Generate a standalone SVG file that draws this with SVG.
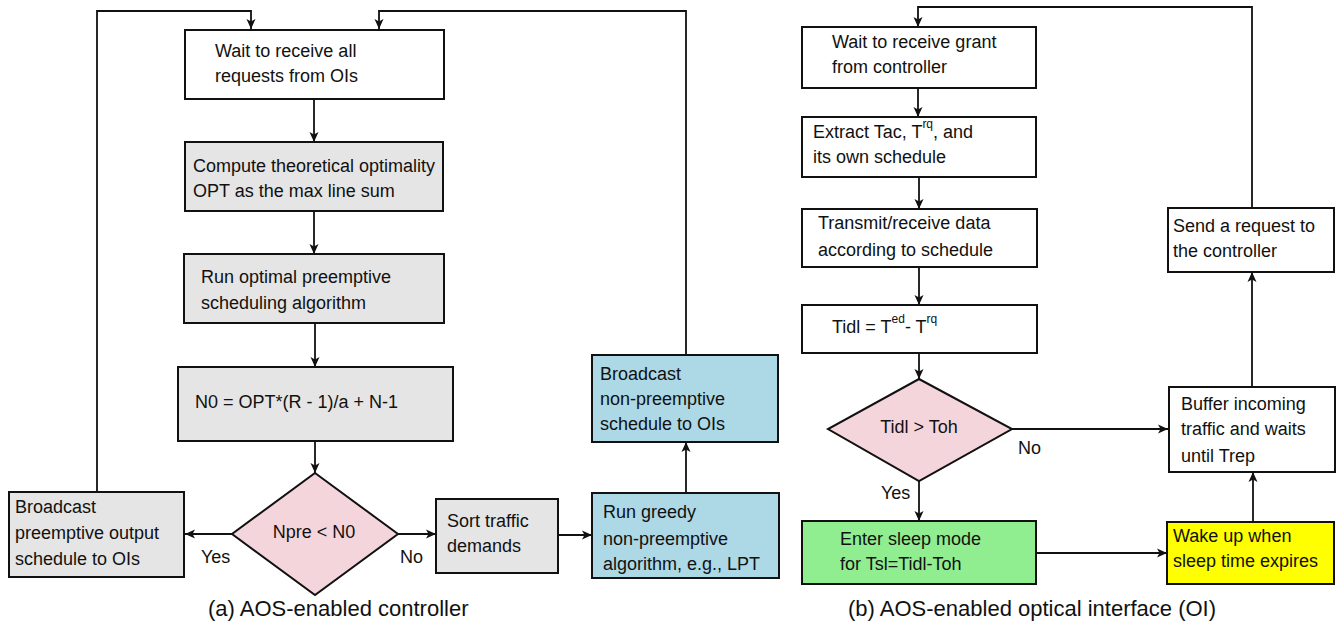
<svg xmlns="http://www.w3.org/2000/svg" width="1336" height="628" viewBox="0 0 1336 628">
<style>
text{font-family:"Liberation Sans",Arial,sans-serif;font-size:18px;fill:#111}
.cap{font-size:22px}
.box{stroke:#111;stroke-width:2}
.w{fill:#fff}.g{fill:#e5e5e5}.b{fill:#add8e6}.p{fill:#f5d5dc}.gr{fill:#90ee90}.y{fill:#ffff00}
.c{fill:none;stroke:#111;stroke-width:1.8}
.sup{font-size:12px}
</style>
<defs>
<marker id="ah" markerWidth="10" markerHeight="10" viewBox="0 0 10 10" refX="10" refY="5" orient="auto" markerUnits="userSpaceOnUse">
<path d="M0,0.5 L10,5 L0,9.5 L2.5,5 z" fill="#111"/>
</marker>
</defs>
<rect width="1336" height="628" fill="#fff"/>
<g id="connectors">
<path class="c" d="M97,492 V11 H251 V29" marker-end="url(#ah)"/>
<path class="c" d="M686,355 V11 H379 V29" marker-end="url(#ah)"/>
<path class="c" d="M314,99 V142" marker-end="url(#ah)"/>
<path class="c" d="M314,211 V254" marker-end="url(#ah)"/>
<path class="c" d="M315,323 V367" marker-end="url(#ah)"/>
<path class="c" d="M315,441 V473" marker-end="url(#ah)"/>
<path class="c" d="M232,534 H185" marker-end="url(#ah)"/>
<path class="c" d="M398,534 H436" marker-end="url(#ah)"/>
<path class="c" d="M558,535 H592" marker-end="url(#ah)"/>
<path class="c" d="M686,493 V442" marker-end="url(#ah)"/>
<path class="c" d="M1252,208 V7 H918 V27" marker-end="url(#ah)"/>
<path class="c" d="M918,88 V117" marker-end="url(#ah)"/>
<path class="c" d="M919,177 V209" marker-end="url(#ah)"/>
<path class="c" d="M919,267 V305" marker-end="url(#ah)"/>
<path class="c" d="M919,353 V379" marker-end="url(#ah)"/>
<path class="c" d="M1012,429 H1168" marker-end="url(#ah)"/>
<path class="c" d="M919,481 V521" marker-end="url(#ah)"/>
<path class="c" d="M1036,553 H1167" marker-end="url(#ah)"/>
<path class="c" d="M1253,522 V472" marker-end="url(#ah)"/>
<path class="c" d="M1252,387 V272" marker-end="url(#ah)"/>
</g>
<g id="labels">
<text x="201" y="563">Yes</text>
<text x="400" y="563">No</text>
<text x="1018" y="454">No</text>
<text x="881" y="499">Yes</text>
<text class="cap" x="208" y="616">(a) AOS-enabled controller</text>
<text class="cap" x="848" y="616">(b) AOS-enabled optical interface (OI)</text>
</g>
<g id="wait-all">
<rect class="box w" x="185" y="30" width="259" height="69"/>
<text x="215" y="57">Wait to receive all</text>
<text x="215" y="82">requests from OIs</text>
</g>
<g id="compute-opt">
<rect class="box g" x="185" y="142" width="258" height="69"/>
<text x="193" y="172">Compute theoretical optimality</text>
<text x="193" y="197">OPT as the max line sum</text>
</g>
<g id="run-optimal">
<rect class="box g" x="184" y="254" width="260" height="69"/>
<text x="201" y="283">Run optimal preemptive</text>
<text x="201" y="309">scheduling algorithm</text>
</g>
<g id="n0">
<rect class="box g" x="178" y="367" width="275" height="74"/>
<text x="195" y="408">N0 = OPT*(R - 1)/a + N-1</text>
</g>
<g id="decision-npre">
<polygon class="box p" points="315,473 398,534 315,595 232,534"/>
<text x="314" y="538" text-anchor="middle">Npre &lt; N0</text>
</g>
<g id="broadcast-pre">
<rect class="box g" x="9" y="492" width="175" height="85"/>
<text x="15" y="513">Broadcast</text>
<text x="15" y="539">preemptive output</text>
<text x="15" y="565">schedule to OIs</text>
</g>
<g id="sort">
<rect class="box g" x="436" y="499" width="122" height="74"/>
<text x="447" y="527">Sort traffic</text>
<text x="447" y="552">demands</text>
</g>
<g id="greedy">
<rect class="box b" x="592" y="493" width="187" height="85"/>
<text x="603" y="518">Run greedy</text>
<text x="603" y="545">non-preemptive</text>
<text x="603" y="570">algorithm, e.g., LPT</text>
</g>
<g id="broadcast-nonpre">
<rect class="box b" x="592" y="355" width="186" height="87"/>
<text x="600" y="380">Broadcast</text>
<text x="600" y="405">non-preemptive</text>
<text x="600" y="430">schedule to OIs</text>
</g>
<g id="wait-grant">
<rect class="box w" x="802" y="27" width="234" height="61"/>
<text x="832" y="48">Wait to receive grant</text>
<text x="832" y="73">from controller</text>
</g>
<g id="extract">
<rect class="box w" x="802" y="117" width="234" height="60"/>
<text x="813" y="138">Extract Tac, T<tspan class="sup" dy="-10">rq</tspan><tspan dy="10">, and</tspan></text>
<text x="813" y="163">its own schedule</text>
</g>
<g id="transmit">
<rect class="box w" x="802" y="209" width="235" height="58"/>
<text x="818" y="229">Transmit/receive data</text>
<text x="818" y="256">according to schedule</text>
</g>
<g id="tidl">
<rect class="box w" x="802" y="305" width="235" height="48"/>
<text x="832" y="333">Tidl = T<tspan class="sup" dy="-10">ed</tspan><tspan dy="10">- T</tspan><tspan class="sup" dy="-10">rq</tspan></text>
</g>
<g id="decision-tidl">
<polygon class="box p" points="919,379 1012,429 919,481 828,429"/>
<text x="919" y="433" text-anchor="middle">Tidl &gt; Toh</text>
</g>
<g id="sleep">
<rect class="box gr" x="802" y="521" width="234" height="63"/>
<text x="840" y="545">Enter sleep mode</text>
<text x="840" y="570">for Tsl=Tidl-Toh</text>
</g>
<g id="wake">
<rect class="box y" x="1167" y="522" width="167" height="62"/>
<text x="1173" y="542">Wake up when</text>
<text x="1173" y="567">sleep time expires</text>
</g>
<g id="buffer">
<rect class="box w" x="1169" y="387" width="166" height="85"/>
<text x="1181" y="410">Buffer incoming</text>
<text x="1181" y="435">traffic and waits</text>
<text x="1181" y="462">until Trep</text>
</g>
<g id="send-request">
<rect class="box w" x="1168" y="208" width="166" height="64"/>
<text x="1173" y="232">Send a request to</text>
<text x="1173" y="257">the controller</text>
</g>
</svg>
